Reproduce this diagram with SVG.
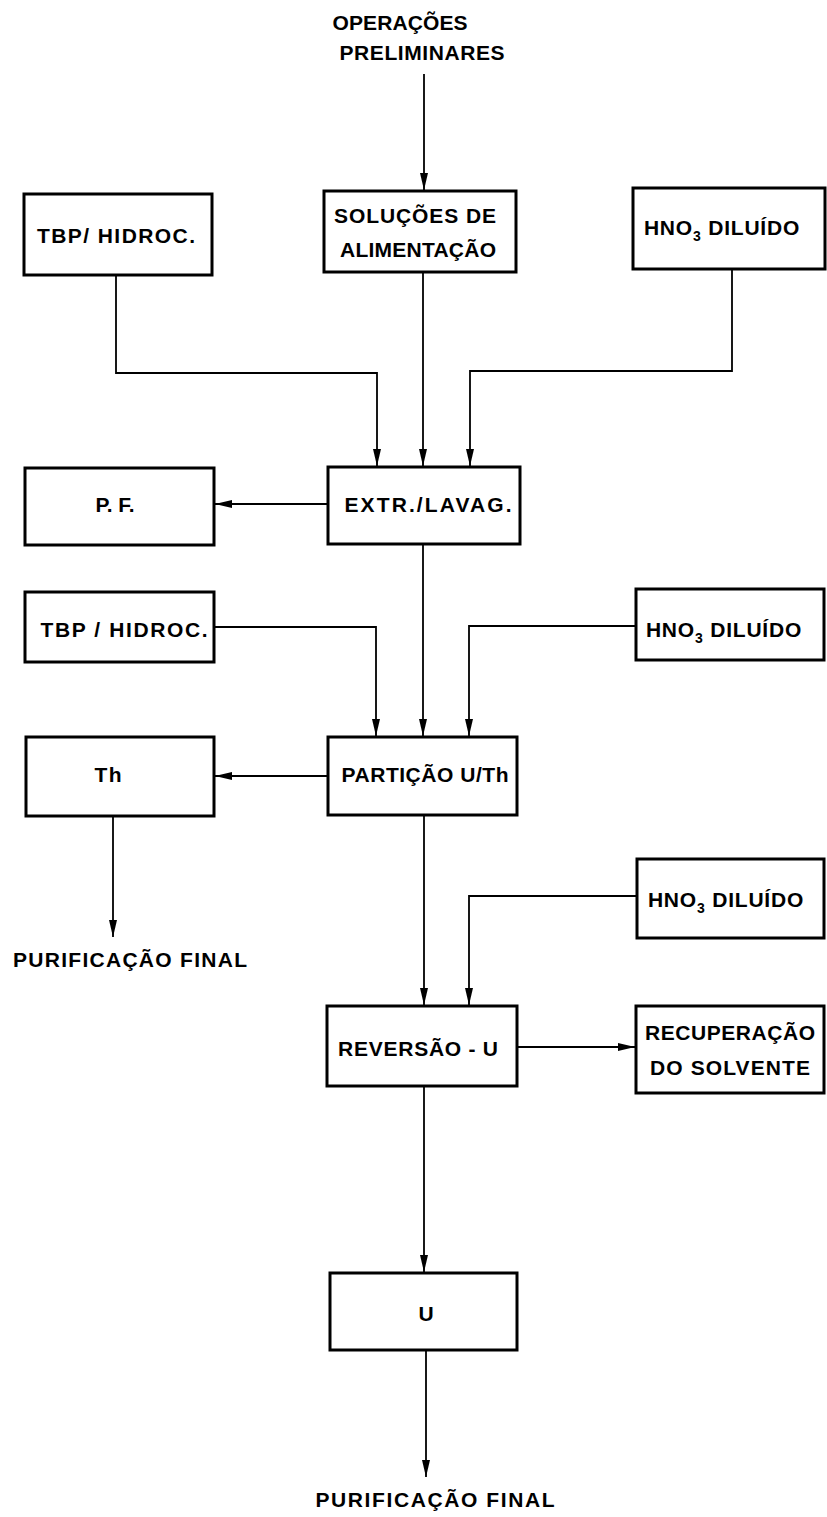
<svg xmlns="http://www.w3.org/2000/svg" width="827" height="1517" viewBox="0 0 827 1517">
<style>
.box{fill:#fff;stroke:#000;stroke-width:3}
.t{font-family:"Liberation Sans",Arial,sans-serif;font-size:21px;font-weight:bold;fill:#000;text-anchor:middle}
.h{letter-spacing:0.8px}
.c{fill:none;stroke:#000;stroke-width:1.8}
</style>
<defs>
<marker id="ah" markerUnits="userSpaceOnUse" markerWidth="18" markerHeight="8" refX="17" refY="4" orient="auto">
<path d="M0,0 L17,4 L0,8 z" fill="#000"/>
</marker>
</defs>
<rect width="827" height="1517" fill="#fff"/>
<g id="connectors">
<path class="c" d="M424,74 V190" marker-end="url(#ah)"/>
<path class="c" d="M116,275 V373 H377 V466" marker-end="url(#ah)"/>
<path class="c" d="M423,272 V466" marker-end="url(#ah)"/>
<path class="c" d="M732,269 V371 H470 V466" marker-end="url(#ah)"/>
<path class="c" d="M328,504 H215" marker-end="url(#ah)"/>
<path class="c" d="M423,544 V736" marker-end="url(#ah)"/>
<path class="c" d="M214,627 H376 V736" marker-end="url(#ah)"/>
<path class="c" d="M636,626 H469 V736" marker-end="url(#ah)"/>
<path class="c" d="M328,776 H215" marker-end="url(#ah)"/>
<path class="c" d="M113,816 V937" marker-end="url(#ah)"/>
<path class="c" d="M424,815 V1005" marker-end="url(#ah)"/>
<path class="c" d="M637,896 H469 V1005" marker-end="url(#ah)"/>
<path class="c" d="M517,1047 H635" marker-end="url(#ah)"/>
<path class="c" d="M424,1086 V1272" marker-end="url(#ah)"/>
<path class="c" d="M426,1350 V1477" marker-end="url(#ah)"/>
</g>
<g id="op-prelim">
<text class="t" x="400" y="30" textLength="135" lengthAdjust="spacing">OPERAÇÕES</text>
<text class="t" x="422" y="60" textLength="165" lengthAdjust="spacing">PRELIMINARES</text>
</g>
<g id="tbp1">
<rect class="box" x="24" y="194" width="188" height="81"/>
<text class="t" x="116" y="243" textLength="158" lengthAdjust="spacing">TBP/ HIDROC.</text>
</g>
<g id="solucoes">
<rect class="box" x="324" y="191" width="192" height="81"/>
<text class="t" x="415" y="223" textLength="162" lengthAdjust="spacing">SOLUÇÕES DE</text>
<text class="t" x="418" y="257" textLength="156" lengthAdjust="spacing">ALIMENTAÇÃO</text>
</g>
<g id="hno1">
<rect class="box" x="633" y="188" width="192" height="81"/>
<text class="t h" x="722" y="235">HNO<tspan dy="6" font-size="14">3</tspan><tspan dy="-6"> DILUÍDO</tspan></text>
</g>
<g id="extr">
<rect class="box" x="328" y="467" width="192" height="77"/>
<text class="t" x="428" y="512" textLength="167" lengthAdjust="spacing">EXTR./LAVAG.</text>
</g>
<g id="pf">
<rect class="box" x="25" y="468" width="189" height="77"/>
<text class="t" x="115" y="512" textLength="39" lengthAdjust="spacing">P. F.</text>
</g>
<g id="tbp2">
<rect class="box" x="25" y="592" width="189" height="70"/>
<text class="t" x="124" y="637" textLength="167" lengthAdjust="spacing">TBP / HIDROC.</text>
</g>
<g id="hno2">
<rect class="box" x="636" y="589" width="188" height="71"/>
<text class="t h" x="724" y="637">HNO<tspan dy="6" font-size="14">3</tspan><tspan dy="-6"> DILUÍDO</tspan></text>
</g>
<g id="particao">
<rect class="box" x="328" y="737" width="189" height="78"/>
<text class="t" x="425" y="782" textLength="167" lengthAdjust="spacing">PARTIÇÃO U/Th</text>
</g>
<g id="th">
<rect class="box" x="26" y="737" width="188" height="79"/>
<text class="t" x="108" y="782" textLength="27" lengthAdjust="spacing">Th</text>
</g>
<g id="purif-th">
<text class="t" x="130" y="967" textLength="234" lengthAdjust="spacing">PURIFICAÇÃO FINAL</text>
</g>
<g id="hno3">
<rect class="box" x="637" y="859" width="187" height="79"/>
<text class="t h" x="726" y="907">HNO<tspan dy="6" font-size="14">3</tspan><tspan dy="-6"> DILUÍDO</tspan></text>
</g>
<g id="reversao">
<rect class="box" x="327" y="1006" width="190" height="80"/>
<text class="t" x="418" y="1056" textLength="160" lengthAdjust="spacing">REVERSÃO - U</text>
</g>
<g id="recuperacao">
<rect class="box" x="636" y="1006" width="188" height="87"/>
<text class="t" x="730" y="1040" textLength="170" lengthAdjust="spacing">RECUPERAÇÃO</text>
<text class="t" x="730" y="1075" textLength="160" lengthAdjust="spacing">DO SOLVENTE</text>
</g>
<g id="u">
<rect class="box" x="330" y="1273" width="187" height="77"/>
<text class="t" x="426" y="1321">U</text>
</g>
<g id="purif-u">
<text class="t" x="435" y="1507" textLength="239" lengthAdjust="spacing">PURIFICAÇÃO FINAL</text>
</g>
</svg>
